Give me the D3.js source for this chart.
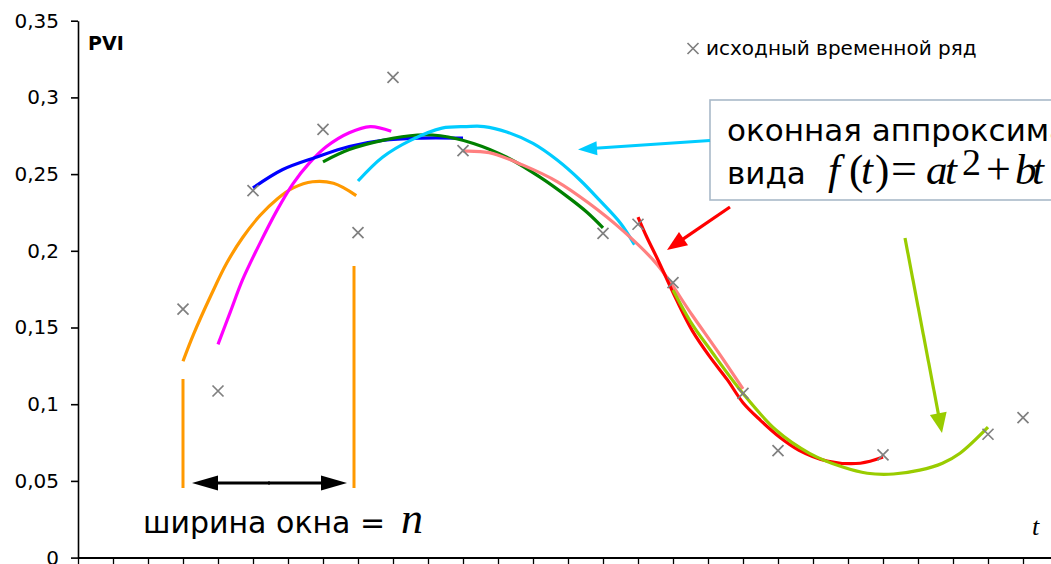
<!DOCTYPE html>
<html><head><meta charset="utf-8">
<script src="https://cdn.jsdelivr.net/npm/d3@7"></script>
<style>html,body{margin:0;padding:0;background:#fff;} svg{display:block;}</style>
</head><body>
<svg id="c" width="1051" height="564"></svg>
<script>
// ---------- data ----------
const timePoints = [3,4,5,7,8,9,11,15,16,17,19,20,23,26,27];
const pviValues  = [0.162,0.1086,0.2392,0.2792,0.2118,0.3131,0.2653,0.2114,0.2173,0.1792,0.1071,0.0697,0.0669,0.0804,0.0912];

const yTickValues = [0,0.05,0.1,0.15,0.2,0.25,0.3,0.35];
const yTickLabels = ["0","0,05","0,1","0,15","0,2","0,25","0,3","0,35"];
const xTickValues = [0,1,2,3,4,5,6,7,8,9,10,11,12,13,14,15,16,17,18,19,20,21,22,23,24,25,26,27];

// window quadratic fits as [t, value]
const fitOrange  = [[3.0,0.128],[3.3,0.1455],[3.8,0.171],[4.25,0.192],[4.7,0.2085],[5.2,0.223],[5.7,0.234],[6.15,0.241],[6.7,0.245],[7.3,0.244],[7.95,0.236]];
const fitMagenta = [[4.0,0.139],[4.35,0.160],[4.7,0.181],[5.2,0.205],[5.7,0.227],[6.15,0.244],[6.6,0.257],[7.1,0.268],[7.75,0.277],[8.35,0.281],[8.95,0.278]];
const fitBlue    = [[5.0,0.241],[5.85,0.253],[6.8,0.261],[7.75,0.268],[8.7,0.272],[9.7,0.2735],[11.0,0.2735]];
const fitGreen   = [[7.0,0.258],[7.75,0.266],[8.7,0.272],[9.7,0.2755],[10.35,0.275],[11.3,0.270],[12.25,0.261],[13.2,0.248],[14.0,0.235],[14.55,0.225],[15.0,0.215]];
const fitCyan    = [[8.0,0.2455],[8.7,0.261],[9.5,0.272],[10.4,0.280],[11.1,0.281],[11.6,0.281],[12.25,0.2775],[13.0,0.270],[13.7,0.259],[14.35,0.246],[14.9,0.233],[15.5,0.218],[15.9,0.204]];
const fitSalmon  = [[11.0,0.265],[11.75,0.264],[12.7,0.256],[13.7,0.245],[14.6,0.231],[15.55,0.2135],[16.55,0.191],[17.55,0.158],[18.35,0.132],[19.0,0.110]];
const fitRed     = [[16.0,0.222],[16.25,0.209],[16.55,0.195],[17.1,0.168],[17.55,0.148],[18.05,0.131],[18.55,0.116],[19.0,0.101],[19.5,0.0895],[20.05,0.0785],[20.6,0.070],[21.4,0.063],[22.35,0.0615],[23.0,0.0655]];
const fitLime    = [[17.0,0.1745],[17.55,0.152],[18.05,0.136],[19.0,0.107],[19.95,0.083],[20.9,0.068],[21.85,0.059],[22.55,0.055],[23.3,0.0545],[24.05,0.057],[24.7,0.0615],[25.2,0.068],[26.0,0.085]];

const fitSeries = [fitOrange, fitMagenta, fitBlue, fitGreen, fitCyan, fitSalmon, fitRed, fitLime];
const fitColors = ["#ff9900","#ff00ff","#0000ff","#008000","#00ccff","#ff8080","#ff0000","#99cc00"];

const legendLabel = "исходный временной ряд";

// ---------- layout ----------
const svg = d3.select("#c");
const x = d3.scaleLinear().domain([0, 28]).range([78, 1058]);
const y = d3.scaleLinear().domain([0, 0.35]).range([557.6, 20.7]);

// axes
const yAxis = d3.axisLeft(y).tickValues(yTickValues)
  .tickFormat((d,i) => yTickLabels[i]).tickSize(7).tickSizeOuter(0).tickPadding(12);
const gy = svg.append("g").attr("transform","translate(78,0)").call(yAxis);
gy.selectAll("text").attr("font-family","DejaVu Sans, Verdana, sans-serif").attr("font-size",20).attr("fill","#000");
gy.selectAll("line,path").attr("stroke","#000").attr("stroke-width",1.6);

const xAxis = d3.axisBottom(x).tickValues(xTickValues).tickFormat("").tickSize(9).tickSizeOuter(0);
const gx = svg.append("g").attr("transform","translate(0,557.6)").call(xAxis);
gx.selectAll("line").attr("stroke","#000").attr("stroke-width",1.3);
gx.select("path").attr("stroke","#000").attr("stroke-width",2);

// PVI label
svg.append("text").attr("x",88).attr("y",50).attr("font-family","DejaVu Sans, Verdana, sans-serif")
  .attr("font-weight","bold").attr("font-size",19).text("PVI");

// fitted curves
const line = d3.line().x(d => x(d[0])).y(d => y(d[1])).curve(d3.curveCatmullRom.alpha(0.5));
svg.append("g").selectAll("path").data(fitSeries).join("path")
  .attr("d", line).attr("fill","none")
  .attr("stroke",(d,i)=>fitColors[i]).attr("stroke-width",3.2)
  .attr("stroke-linecap","butt").attr("stroke-linejoin","round");

// original series markers
const cross = "M-5.5,-5.5L5.5,5.5M-5.5,5.5L5.5,-5.5";
svg.append("g").selectAll("path").data(timePoints).join("path")
  .attr("transform",(d,i)=>`translate(${x(d)},${y(pviValues[i])})`)
  .attr("d",cross).attr("stroke","#808080").attr("stroke-width",1.7).attr("fill","none");

// legend
svg.append("path").attr("transform","translate(693,48.5)").attr("d",cross)
  .attr("stroke","#808080").attr("stroke-width",1.7);
svg.append("text").attr("x",706).attr("y",55).attr("font-family","DejaVu Sans, Verdana, sans-serif")
  .attr("font-size",20).text(legendLabel);

// ---------- annotations ----------
function arrow(x1,y1,x2,y2,color,w,hl,hw){
  const a = Math.atan2(y2-y1,x2-x1);
  const bx = x2 - hl*Math.cos(a), by = y2 - hl*Math.sin(a);
  svg.append("line").attr("x1",x1).attr("y1",y1).attr("x2",bx+Math.cos(a)*2).attr("y2",by+Math.sin(a)*2)
    .attr("stroke",color).attr("stroke-width",w);
  const px = -Math.sin(a)*hw, py = Math.cos(a)*hw;
  svg.append("path").attr("d",`M${x2},${y2}L${bx+px},${by+py}L${bx-px},${by-py}Z`).attr("fill",color);
}
// orange window bounds
svg.append("line").attr("x1",183).attr("x2",183).attr("y1",379).attr("y2",488).attr("stroke","#ff9900").attr("stroke-width",3);
svg.append("line").attr("x1",354).attr("x2",354).attr("y1",266).attr("y2",488).attr("stroke","#ff9900").attr("stroke-width",3);
// double arrow
arrow(270,483,192,483,"#000",3,26,7.5);
arrow(268,483,347,483,"#000",3,26,7.5);

// text box
svg.append("rect").attr("x",710).attr("y",100).attr("width",360).attr("height",100)
  .attr("fill","#fff").attr("stroke","#a9b9c9").attr("stroke-width",1.6);
arrow(710,140.5,578,149.5,"#00ccff",3,19,7);
arrow(730,207,667,250,"#ff0000",3.2,20,8);
arrow(905,238,942,433,"#99cc00",3.2,20,8.5);

const sans = "DejaVu Sans, Verdana, sans-serif";
const serif = "Liberation Serif, Times New Roman, serif";
svg.append("text").attr("x",727).attr("y",141).attr("font-family",sans).attr("font-size",31).text("оконная аппроксимация");
svg.append("text").attr("x",727).attr("y",184).attr("font-family",sans).attr("font-size",31).text("вида");

const formula = [
  {s:"f", x:828, y:184, it:true, fs:43},
  {s:"(", x:849, y:184, it:false, fs:43},
  {s:"t", x:861, y:184, it:true, fs:43},
  {s:")", x:875, y:184, it:false, fs:43},
  {s:"=", x:891, y:184, it:false, fs:46},
  {s:"a", x:926, y:184, it:true, fs:43},
  {s:"t", x:945, y:184, it:true, fs:43},
  {s:"2", x:962, y:175, it:false, fs:38},
  {s:"+", x:986, y:184, it:false, fs:44},
  {s:"b", x:1015, y:184, it:true, fs:43},
  {s:"t", x:1032, y:184, it:true, fs:43}
];
svg.append("text").attr("font-family",serif)
  .selectAll("tspan").data(formula).join("tspan")
  .attr("x",d=>d.x).attr("y",d=>d.y)
  .attr("font-style",d=>d.it?"italic":"normal").attr("font-size",d=>d.fs).text(d=>d.s);

svg.append("text").attr("x",143).attr("y",533).attr("font-family",sans).attr("font-size",30).text("ширина окна =");
svg.append("text").attr("x",401).attr("y",533).attr("font-family",serif).attr("font-style","italic").attr("font-size",44).text("n");
svg.append("text").attr("x",1032).attr("y",535).attr("font-family",serif).attr("font-style","italic").attr("font-size",26).text("t");
</script>
</body></html>
